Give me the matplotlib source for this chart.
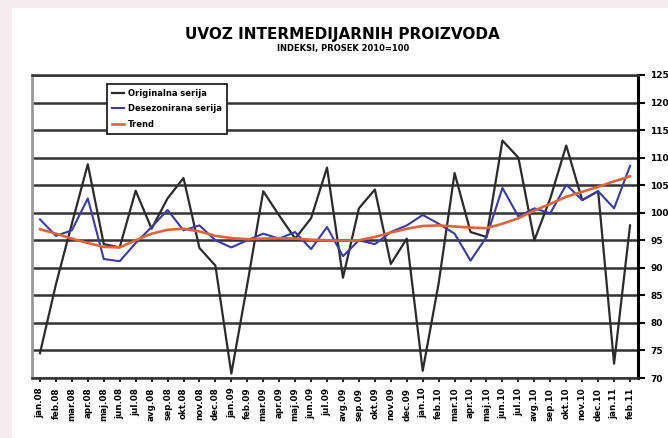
import matplotlib.pyplot as plt
from matplotlib.patches import Rectangle
import numpy as np

# monthly index values (38 months)
months = ['jan', 'feb', 'mar', 'apr', 'maj', 'jun',
          'jul', 'avg', 'sep', 'okt', 'nov', 'dec']
years = ['08', '09', '10', '11']
labels = [f"{m}.{y}" for y in years for m in months][:38]

original = [74.5, 87.0, 98.0, 108.8, 94.3, 93.7, 104.0, 97.1, 102.6, 106.3,
            93.6, 90.4, 70.8, 87.0, 103.9, 99.5, 95.3, 99.0, 108.2, 88.2,
            100.8, 104.2, 90.7, 95.3, 71.3, 87.2, 107.2, 96.5, 95.6, 113.1,
            110.0, 95.0, 102.6, 112.2, 102.3, 103.9, 72.6, 97.7]
seas_adj = [98.8, 95.8, 96.8, 102.6, 91.6, 91.2, 94.5, 97.4, 100.5, 96.8,
            97.7, 95.0, 93.7, 95.0, 96.2, 95.3, 96.5, 93.4, 97.4, 92.1,
            95.0, 94.3, 96.5, 97.7, 99.6, 98.0, 96.2, 91.3, 95.6, 104.5,
            99.3, 100.8, 99.9, 105.1, 102.3, 103.9, 100.8, 108.5]
trend = [97.0, 96.2, 95.3, 94.5, 93.8, 93.7, 95.0, 96.2, 96.9, 97.1,
         96.6, 95.8, 95.4, 95.2, 95.3, 95.4, 95.3, 95.1, 95.0, 94.9,
         95.0, 95.6, 96.4, 97.1, 97.6, 97.7, 97.5, 97.3, 97.2, 98.0,
         99.0, 100.4, 101.6, 102.9, 103.8, 104.7, 105.7, 106.6]

yticks = list(range(70, 126, 5))

fig = plt.figure(figsize=(6.68, 4.38), dpi=100)
fig.patch.set_facecolor('#f6ecef')
# white paper area of the scan
fig.patches.append(Rectangle((12 / 668, 0), 1, 1 - 8 / 438, transform=fig.transFigure,
                             facecolor='white', edgecolor='none', zorder=-10))

ax = fig.add_axes([32 / 668, 1 - 378 / 438, 606 / 668, 303 / 438])
ax.set_facecolor('white')
x = np.arange(len(original))

ax.plot(x, original, color='#2b2b2b', lw=1.6, label='Originalna serija', zorder=3)
ax.plot(x, seas_adj, color='#3a3aa8', lw=1.5, label='Desezonirana serija', zorder=4)
ax.plot(x, trend, color='#e0643a', lw=1.9, label='Trend', zorder=5)

ax.set_xlim(-0.5, len(x) - 0.5)
ax.set_ylim(70, 125)
ax.set_yticks(yticks)
ax.yaxis.tick_right()
ax.grid(axis='y', color='#333333', lw=1.8)
ax.set_axisbelow(True)
ax.tick_params(axis='y', direction='out', length=5, width=1.5, pad=4,
               labelsize=6.5, colors='black')
for t in ax.get_yticklabels():
    t.set_fontweight('bold')

ax.set_xticks(x)
ax.set_xticklabels(labels, rotation=90, fontsize=6.3, fontweight='bold')
ax.tick_params(axis='x', direction='out', length=3, width=1.2, pad=4)

for side in ['top', 'bottom']:
    ax.spines[side].set_color('#333333')
    ax.spines[side].set_linewidth(1.8)
ax.spines['right'].set_color('black')
ax.spines['right'].set_linewidth(2.2)
ax.spines['left'].set_color('#999999')
ax.spines['left'].set_linewidth(2.0)

leg = ax.legend(loc='upper left', bbox_to_anchor=(0.117, 0.985),
                frameon=True, fancybox=False, handlelength=1.4, borderpad=0.6,
                labelspacing=0.8, handletextpad=0.5,
                prop={'weight': 'bold', 'size': 6})
leg.get_frame().set_edgecolor('#222222')
leg.get_frame().set_linewidth(1.3)
leg.get_frame().set_alpha(1)

fig.text(0.5 * (175 + 510) / 668, 1 - 35 / 438, 'UVOZ INTERMEDIJARNIH PROIZVODA',
         ha='center', va='center', fontsize=11, fontweight='bold')
fig.text(0.5 * (268 + 418) / 668, 1 - 48 / 438, 'INDEKSI, PROSEK 2010=100',
         ha='center', va='center', fontsize=6, fontweight='bold')

fig.savefig('out.png', dpi=100, facecolor=fig.get_facecolor())
